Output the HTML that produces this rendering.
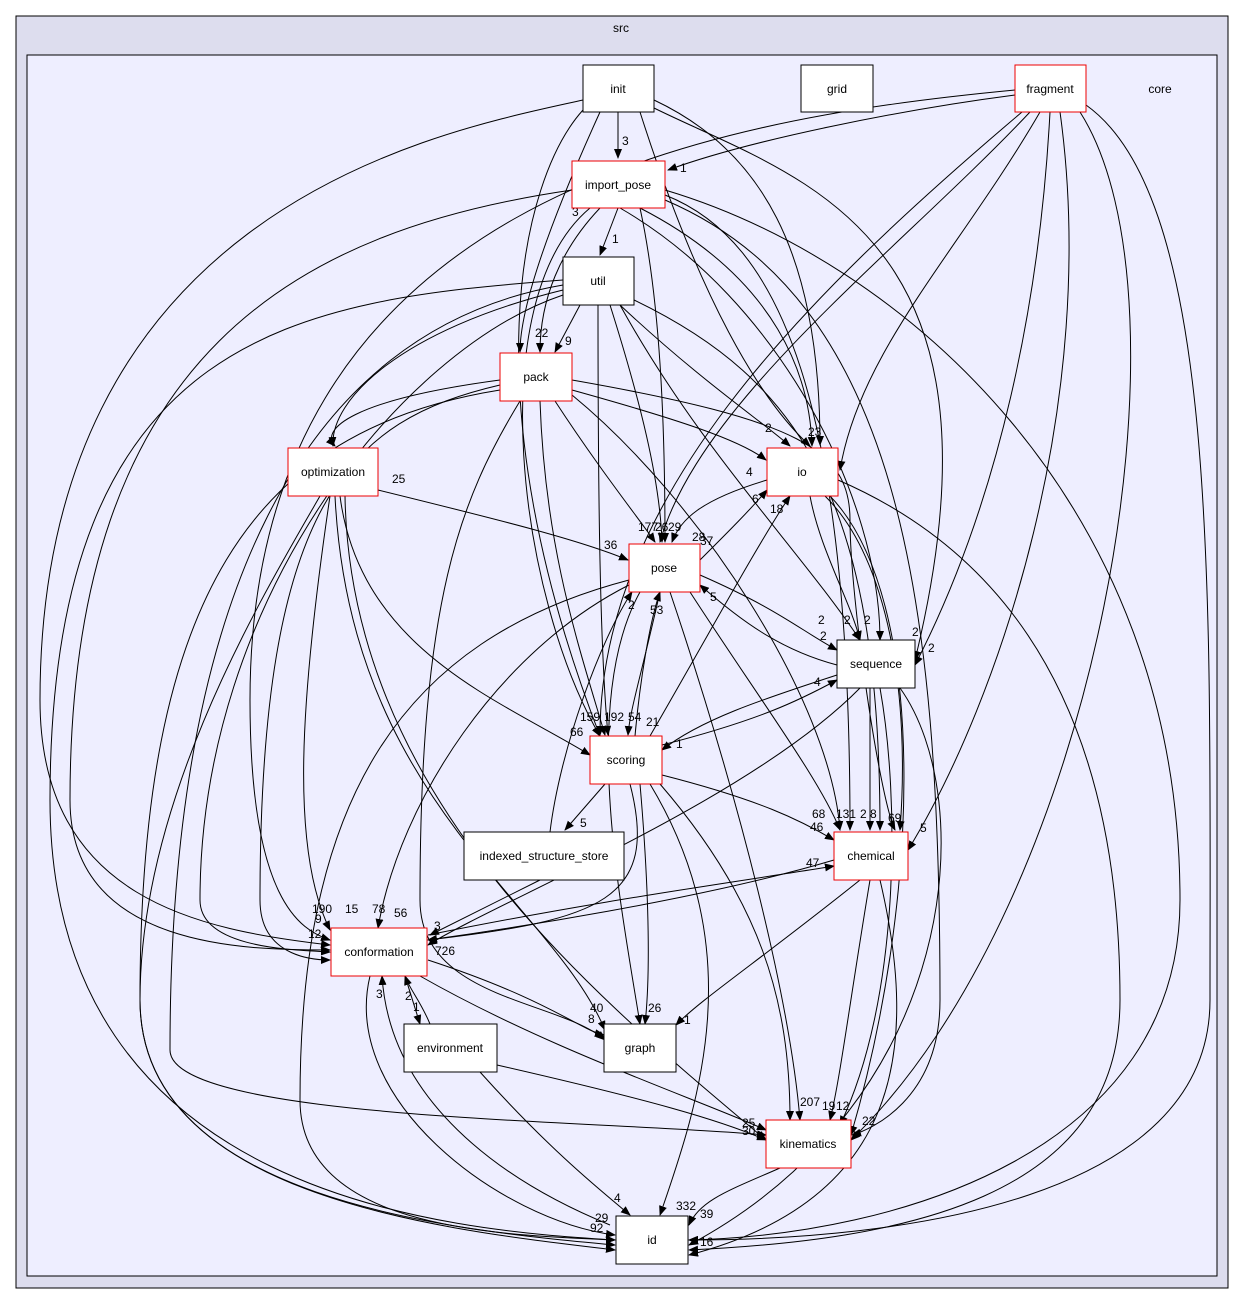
<!DOCTYPE html>
<html><head><meta charset="utf-8"><style>
body{margin:0;background:#fff;}
svg{display:block;font-family:"Liberation Sans",sans-serif;}
text{font-size:12px;fill:#000;}
.n{fill:#fff;stroke:#000;stroke-width:1;}
.r{fill:#fff;stroke:#e00;stroke-width:1;}
.e{fill:none;stroke:#000;stroke-width:1;marker-end:url(#a);}
.l{font-size:11px;}
</style></head><body>
<svg width="1245" height="1303" viewBox="0 0 1245 1303" xmlns="http://www.w3.org/2000/svg">
<defs><marker id="a" markerWidth="10" markerHeight="8" refX="9" refY="4" orient="auto" markerUnits="userSpaceOnUse"><path d="M0,0 L10,4 L0,8 z" fill="#000"/></marker></defs>
<rect x="16" y="16" width="1212" height="1272" fill="#ddddee" stroke="#000"/>
<text x="621" y="32" text-anchor="middle">src</text>
<rect x="27" y="55" width="1190" height="1221" fill="#eeeeff" stroke="#000"/>
<text x="1160" y="93" text-anchor="middle">core</text>

<g>
<path class="e" d="M618,112 L618,158"/>
<path class="e" d="M654,100 C760,150 820,250 820,445"/>
<path class="e" d="M654,108 C800,180 1020,230 915,660"/>
<path class="e" d="M583,110 C520,180 470,400 600,736"/>
<path class="e" d="M583,100 C450,130 40,200 40,700 C40,900 200,930 330,945"/>
<path class="e" d="M600,112 C560,200 520,300 520,352"/>
<path class="e" d="M640,112 C700,300 760,400 810,446"/>
<path class="e" d="M1015,95 C900,110 750,140 668,170"/>
<path class="e" d="M1015,90 C700,120 250,200 250,700 C250,900 300,930 330,940"/>
<path class="e" d="M1030,112 C900,250 700,400 660,542"/>
<path class="e" d="M1040,112 C960,250 860,350 840,470"/>
<path class="e" d="M1050,112 C1040,300 1000,500 915,665"/>
<path class="e" d="M1060,112 C1100,400 1000,700 908,850"/>
<path class="e" d="M1080,112 C1200,300 1100,900 851,1140"/>
<path class="e" d="M1086,105 C1220,200 1210,600 1210,1000 C1210,1200 900,1240 689,1240"/>
<path class="e" d="M1022,112 C800,300 600,500 600,735"/>
<path class="e" d="M618,208 L600,255"/>
<path class="e" d="M572,190 C300,230 70,350 70,800 C70,950 250,950 330,950"/>
<path class="e" d="M665,195 C780,240 850,400 850,830"/>
<path class="e" d="M665,200 C900,300 940,600 940,1000 C940,1100 870,1130 852,1135"/>
<path class="e" d="M665,190 C900,260 1180,500 1180,900 C1180,1150 900,1235 689,1240"/>
<path class="e" d="M640,208 C660,300 665,420 665,542"/>
<path class="e" d="M620,208 C780,300 880,500 880,640"/>
<path class="e" d="M640,208 C780,280 810,380 812,446"/>
<path class="e" d="M590,208 C480,300 520,600 600,736"/>
<path class="e" d="M600,208 C560,250 540,300 540,352"/>
<path class="e" d="M580,305 L555,352"/>
<path class="e" d="M563,290 C400,330 330,400 333,446"/>
<path class="e" d="M563,285 C300,330 170,600 170,1050 C170,1120 600,1120 766,1135"/>
<path class="e" d="M563,280 C300,300 50,330 50,800 C50,1200 450,1230 615,1240"/>
<path class="e" d="M563,295 C400,350 200,600 200,900 C200,950 300,950 330,952"/>
<path class="e" d="M598,305 C598,500 600,650 608,735"/>
<path class="e" d="M610,305 C640,400 660,480 662,542"/>
<path class="e" d="M620,305 C700,380 760,420 790,446"/>
<path class="e" d="M620,305 C700,450 800,550 860,640"/>
<path class="e" d="M634,300 C800,380 880,500 880,830"/>
<path class="e" d="M500,380 C350,400 320,430 335,446"/>
<path class="e" d="M500,385 C350,420 260,500 260,900 C260,960 320,960 330,960"/>
<path class="e" d="M500,390 C250,430 140,600 140,1000 C140,1200 450,1230 615,1245"/>
<path class="e" d="M520,401 C460,500 420,600 420,900 C420,1000 560,1000 605,1040"/>
<path class="e" d="M540,401 C545,550 580,650 605,735"/>
<path class="e" d="M555,401 C600,470 640,520 655,542"/>
<path class="e" d="M572,390 C680,420 740,440 766,460"/>
<path class="e" d="M572,380 C800,420 850,450 850,520 C850,600 880,800 895,830"/>
<path class="e" d="M572,395 C700,500 830,700 840,830"/>
<path class="e" d="M378,490 C500,520 580,540 628,560"/>
<path class="e" d="M340,496 C360,650 500,700 590,755"/>
<path class="e" d="M330,496 C300,700 290,850 330,930"/>
<path class="e" d="M320,496 C260,600 140,800 140,1000 C140,1200 450,1230 615,1250"/>
<path class="e" d="M345,496 C350,800 600,1000 766,1140"/>
<path class="e" d="M335,496 C350,800 550,900 605,1030"/>
<path class="e" d="M767,480 C700,500 680,520 672,542"/>
<path class="e" d="M810,496 C820,550 850,600 860,640"/>
<path class="e" d="M825,496 C890,560 910,700 900,830"/>
<path class="e" d="M838,480 C1000,550 1120,700 1120,1000 C1120,1200 900,1240 689,1250"/>
<path class="e" d="M830,496 C930,600 920,900 851,1135"/>
<path class="e" d="M700,560 C730,530 750,510 767,490"/>
<path class="e" d="M700,575 C780,610 800,630 837,650"/>
<path class="e" d="M690,592 C760,700 820,780 840,830"/>
<path class="e" d="M670,592 C740,800 790,1000 800,1120"/>
<path class="e" d="M640,592 C580,700 620,900 640,1024"/>
<path class="e" d="M629,585 C500,650 400,800 378,928"/>
<path class="e" d="M629,580 C400,640 300,800 300,1100 C300,1230 500,1235 615,1240"/>
<path class="e" d="M660,592 C640,680 630,710 628,735"/>
<path class="e" d="M837,665 C780,650 740,620 700,585"/>
<path class="e" d="M837,675 C760,700 700,720 662,750"/>
<path class="e" d="M870,688 L870,830"/>
<path class="e" d="M880,688 C900,800 900,1000 840,1125"/>
<path class="e" d="M900,688 C980,800 960,1100 689,1245"/>
<path class="e" d="M860,688 C750,800 500,900 428,945"/>
<path class="e" d="M662,745 C760,720 800,700 837,680"/>
<path class="e" d="M650,736 C700,650 760,540 790,496"/>
<path class="e" d="M635,736 C640,680 650,620 660,592"/>
<path class="e" d="M605,784 L565,830"/>
<path class="e" d="M662,775 C760,800 800,820 834,840"/>
<path class="e" d="M640,784 C650,900 650,980 645,1024"/>
<path class="e" d="M660,784 C760,900 790,1000 790,1120"/>
<path class="e" d="M650,784 C750,950 700,1100 660,1215"/>
<path class="e" d="M630,784 C660,900 600,920 428,940"/>
<path class="e" d="M550,832 C560,750 600,640 632,592"/>
<path class="e" d="M540,880 L430,935"/>
<path class="e" d="M834,860 C700,900 500,930 428,940"/>
<path class="e" d="M428,935 C600,900 750,880 834,866"/>
<path class="e" d="M860,880 C760,960 700,1000 676,1025"/>
<path class="e" d="M870,880 C850,1000 840,1080 830,1120"/>
<path class="e" d="M880,880 C920,1050 900,1200 689,1255"/>
<path class="e" d="M405,976 L420,1024"/>
<path class="e" d="M430,1024 C420,1000 410,990 405,976"/>
<path class="e" d="M370,976 C340,1100 500,1220 615,1235"/>
<path class="e" d="M610,1225 C500,1180 390,1100 382,976"/>
<path class="e" d="M428,960 C550,1000 580,1030 604,1035"/>
<path class="e" d="M420,976 C550,1050 700,1100 766,1130"/>
<path class="e" d="M480,1072 C550,1150 600,1190 630,1215"/>
<path class="e" d="M497,1065 C650,1100 720,1120 766,1140"/>
<path class="e" d="M780,1168 C730,1190 700,1200 689,1225"/>
</g>

<g class="l" style="font-size:11px">
<text x="622" y="145">3</text><text x="680" y="172">1</text><text x="612" y="243">1</text>
<text x="572" y="216">3</text><text x="565" y="345">9</text><text x="535" y="337">22</text>
<text x="392" y="483">25</text><text x="808" y="436">23</text><text x="765" y="432">2</text>
<text x="746" y="476">4</text><text x="826" y="484">1</text><text x="752" y="503">6</text>
<text x="770" y="513">18</text><text x="638" y="531">177</text><text x="655" y="531">26</text>
<text x="668" y="531">29</text><text x="604" y="549">36</text><text x="692" y="541">28</text>
<text x="700" y="545">37</text><text x="710" y="601">5</text><text x="818" y="624">2</text>
<text x="844" y="624">2</text><text x="864" y="624">2</text><text x="912" y="636">2</text>
<text x="928" y="652">2</text><text x="820" y="640">2</text><text x="628" y="609">2</text>
<text x="650" y="614">53</text><text x="814" y="686">4</text><text x="676" y="748">1</text>
<text x="580" y="721">159</text><text x="604" y="721">192</text><text x="628" y="721">54</text>
<text x="646" y="726">21</text><text x="570" y="736">66</text><text x="580" y="827">5</text>
<text x="812" y="818">68</text><text x="836" y="818">131</text><text x="860" y="818">2</text>
<text x="870" y="818">8</text><text x="888" y="822">69</text><text x="920" y="832">5</text>
<text x="810" y="831">46</text><text x="806" y="867">47</text><text x="434" y="930">3</text>
<text x="312" y="913">190</text><text x="345" y="913">15</text><text x="372" y="913">78</text>
<text x="394" y="917">56</text><text x="315" y="923">9</text><text x="308" y="938">12</text>
<text x="435" y="955">726</text><text x="376" y="998">3</text><text x="405" y="1000">2</text>
<text x="413" y="1011">1</text><text x="590" y="1012">40</text><text x="588" y="1023">8</text>
<text x="648" y="1012">26</text><text x="684" y="1024">1</text><text x="742" y="1127">25</text>
<text x="742" y="1135">30</text><text x="800" y="1106">207</text><text x="822" y="1110">19</text>
<text x="836" y="1110">12</text><text x="862" y="1125">22</text><text x="614" y="1202">4</text>
<text x="595" y="1222">29</text><text x="676" y="1210">332</text><text x="700" y="1218">39</text>
<text x="590" y="1232">92</text><text x="700" y="1246">16</text>
</g>

<g>
<rect class="n" x="583" y="65" width="71" height="47"/><text x="618" y="93" text-anchor="middle">init</text>
<rect class="n" x="801" y="65" width="72" height="47"/><text x="837" y="93" text-anchor="middle">grid</text>
<rect class="r" x="1015" y="65" width="71" height="47"/><text x="1050" y="93" text-anchor="middle">fragment</text>
<rect class="r" x="572" y="161" width="93" height="47"/><text x="618" y="189" text-anchor="middle">import_pose</text>
<rect class="n" x="563" y="257" width="71" height="48"/><text x="598" y="285" text-anchor="middle">util</text>
<rect class="r" x="500" y="353" width="72" height="48"/><text x="536" y="381" text-anchor="middle">pack</text>
<rect class="r" x="288" y="448" width="90" height="48"/><text x="333" y="476" text-anchor="middle">optimization</text>
<rect class="r" x="767" y="448" width="71" height="48"/><text x="802" y="476" text-anchor="middle">io</text>
<rect class="r" x="629" y="544" width="71" height="48"/><text x="664" y="572" text-anchor="middle">pose</text>
<rect class="n" x="837" y="640" width="78" height="48"/><text x="876" y="668" text-anchor="middle">sequence</text>
<rect class="r" x="590" y="736" width="72" height="48"/><text x="626" y="764" text-anchor="middle">scoring</text>
<rect class="n" x="464" y="832" width="160" height="48"/><text x="544" y="860" text-anchor="middle">indexed_structure_store</text>
<rect class="r" x="834" y="832" width="74" height="48"/><text x="871" y="860" text-anchor="middle">chemical</text>
<rect class="r" x="331" y="928" width="96" height="48"/><text x="379" y="956" text-anchor="middle">conformation</text>
<rect class="n" x="404" y="1024" width="93" height="48"/><text x="450" y="1052" text-anchor="middle">environment</text>
<rect class="n" x="604" y="1024" width="72" height="48"/><text x="640" y="1052" text-anchor="middle">graph</text>
<rect class="r" x="766" y="1120" width="85" height="48"/><text x="808" y="1148" text-anchor="middle">kinematics</text>
<rect class="n" x="616" y="1216" width="72" height="48"/><text x="652" y="1244" text-anchor="middle">id</text>
</g>
</svg>
</body></html>
